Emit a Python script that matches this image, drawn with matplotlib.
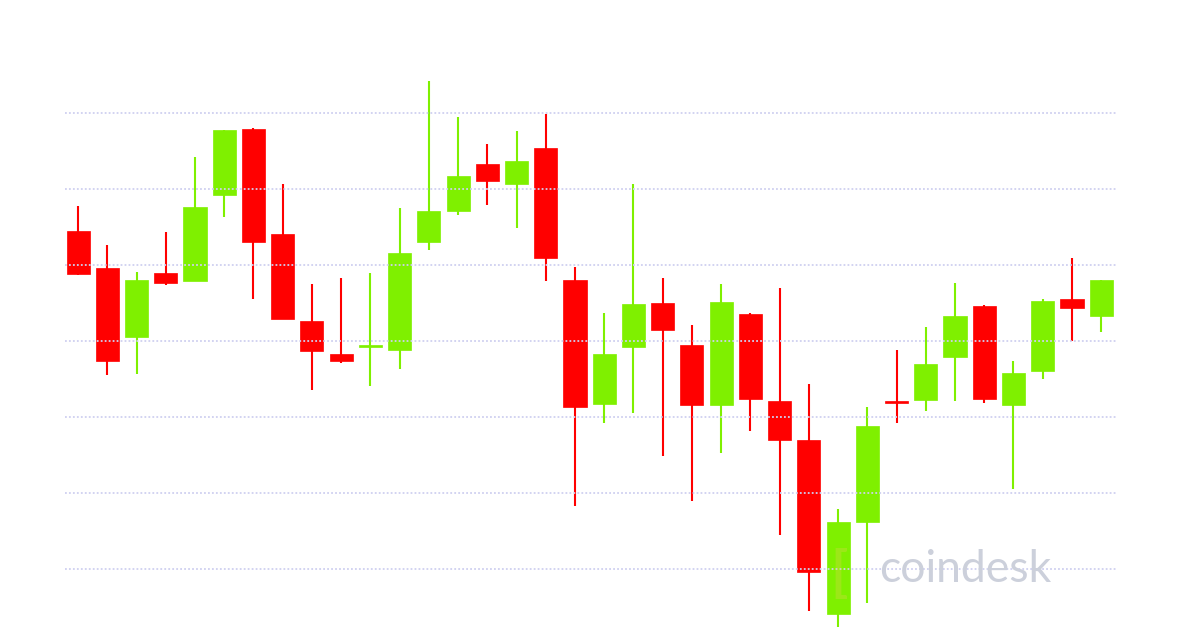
import matplotlib.pyplot as plt

# OHLC values per candle (arbitrary price units; grid every 10)
opens = [44.5, 39.6, 30.5, 39.0, 37.9, 49.2, 57.9, 44.1, 32.6, 28.3, 29.2, 28.8,
         43.0, 47.1, 53.3, 50.7, 55.4, 38.0, 21.7, 29.2, 35.0, 29.5, 21.6, 33.6,
         22.1, 17.0, -5.9, 6.2, 22.0, 22.2, 27.9, 34.6, 21.6, 26.1, 35.5, 33.3]
highs = [47.8, 42.6, 39.1, 44.3, 54.2, 57.8, 58.0, 50.7, 37.5, 38.3, 39.0, 47.5,
         64.2, 59.5, 55.9, 57.6, 59.9, 39.7, 33.7, 50.7, 38.3, 32.1, 37.5, 33.7,
         37.0, 24.3, 7.9, 21.3, 28.8, 31.8, 37.6, 34.7, 27.4, 35.5, 40.9, 38.0]
lows = [38.7, 25.5, 25.7, 37.4, 37.9, 46.3, 35.5, 32.9, 23.6, 27.1, 24.1, 26.3,
        42.0, 46.6, 47.9, 44.9, 37.9, 8.3, 19.2, 20.5, 14.9, 9.0, 15.3, 18.2,
        4.5, -5.5, -7.6, -4.5, 19.2, 20.8, 22.1, 21.8, 10.5, 25.0, 30.0, 31.2]
closes = [38.8, 27.4, 38.0, 37.6, 47.6, 57.8, 43.0, 32.9, 28.7, 27.4, 29.5, 41.6,
          47.1, 51.7, 51.1, 53.7, 40.9, 21.3, 28.3, 34.9, 31.5, 21.6, 35.1, 22.4,
          17.0, -0.4, 6.2, 18.8, 21.8, 27.0, 33.3, 22.4, 25.8, 35.3, 34.3, 38.0]
grid_levels = [0, 10, 20, 30, 40, 50, 60]

up_color = '#7ff000'
down_color = '#ff0000'

fig = plt.figure(figsize=(12, 6.28), dpi=100)
ax = fig.add_axes([0, 0, 1, 1])

idx = list(range(len(opens)))
for i in idx:
    o, h, l, c = opens[i], highs[i], lows[i], closes[i]
    col = up_color if c >= o else down_color
    ax.vlines(i, l, h, color=col, linewidth=1.5, zorder=2)
    bottom = min(o, c)
    height = max(abs(c - o), 0.25)
    ax.bar(i, height, bottom=bottom, width=0.79, color=col,
           edgecolor=col, linewidth=0.5, zorder=2)

ax.hlines(grid_levels, -0.45, 35.5, colors='#cfd0f0', linestyles=(0, (1, 1.2)),
          linewidth=1.3, zorder=3)

ax.set_xlim(-2.67, 38.38)
ax.set_ylim(-7.76, 74.87)
ax.axis('off')

# faint watermark
fig.text(830 / 1200, 1 - 590 / 628, '[', fontsize=40, color='#f5d060', alpha=0.25,
         family='Lato', fontweight='bold', va='baseline', ha='left', zorder=5)
fig.text(879 / 1200, 1 - 582 / 628, 'coindesk', fontsize=32, color='#ccd0db',
         family='Lato', va='baseline', ha='left', zorder=5)

fig.savefig('out.png', dpi=100, facecolor='white')
